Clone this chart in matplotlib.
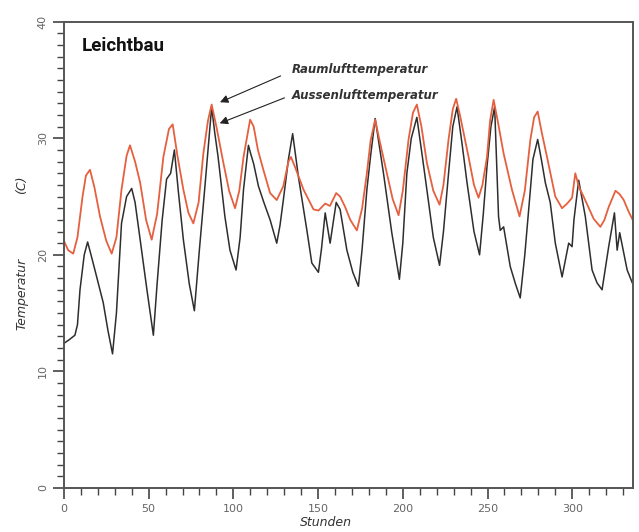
import matplotlib.pyplot as plt
from matplotlib.ticker import MultipleLocator

# Aussenlufttemperatur (black), hours / deg C
out_hours = [0, 3, 6.5, 8, 9.5, 12, 14, 16, 18.3, 23.2, 26, 28.7, 31, 34, 37, 40, 42, 45, 49, 52.8,
             55, 58, 60.6, 63, 65.2, 67.5, 70.5, 74, 77, 80, 83.3, 87.2, 89, 91, 95, 98, 101.6, 104,
             106, 108.9, 110, 112, 114.8, 118, 121.7, 125.6, 127.5, 129.5, 132.5, 135, 138.4, 143.4,
             146.3, 150.2, 152, 154.2, 157.1, 160.7, 163, 167, 170.5, 173.8, 176, 178.8, 181, 183.7,
             188.6, 193.5, 198, 200, 202.4, 205, 208.3, 211, 214.2, 218, 221.7, 224, 227, 229.5, 232,
             235, 237.9, 242, 245.3, 247.5, 249.7, 252, 254.2, 256.5, 257.5, 259.5, 263.4, 266.5,
             269.3, 272, 275.3, 276.8, 279.6, 282, 284.1, 287, 290, 294, 297.9, 299.9, 301, 303.8,
             307.7, 311.7, 314.6, 317.6, 321.5, 324.9, 326.5, 328, 332.4, 336]
out_temp = [12.4, 12.7, 13.1, 14.0, 17.0, 20.0, 21.1, 20.0, 18.7, 15.9, 13.5, 11.5, 15.0, 22.7, 25.0,
            25.7, 24.5, 21.3, 17.0, 13.1, 17.5, 23.0, 26.5, 27.0, 29.0, 25.5, 21.3, 17.5, 15.2, 20.5,
            26.0, 32.7, 30.5, 28.4, 23.3, 20.4, 18.7, 21.5, 25.6, 29.4, 28.8, 27.8, 25.9, 24.5, 23.0,
            21.0, 22.5, 24.7, 28.2, 30.4, 26.7, 22.1, 19.3, 18.5, 20.5, 23.6, 21.0, 24.5, 23.9, 20.4,
            18.5, 17.3, 20.5, 25.6, 28.5, 31.7, 27.0, 21.9, 17.9, 21.0, 27.0, 30.0, 31.8, 29.0, 25.6,
            21.5, 19.1, 22.0, 27.0, 31.0, 32.7, 29.5, 26.2, 22.0, 20.0, 23.5, 27.6, 31.0, 32.7, 23.3,
            22.1, 22.4, 19.0, 17.5, 16.3, 20.0, 25.6, 28.2, 29.9, 28.0, 26.2, 24.5, 21.0, 18.1, 21.0,
            20.7, 23.0, 26.4, 23.3, 18.7, 17.6, 17.0, 20.7, 23.6, 20.4, 21.9, 18.7, 17.4]

# Raumlufttemperatur (red)
room_hours = [0, 2.5, 5.5, 8, 11, 13, 15.4, 18, 21.3, 25, 28.2, 31, 34, 37, 39, 42, 45, 48.5, 51.8,
              55, 58.7, 62, 64.2, 67, 70.5, 73.5, 76.4, 79.5, 82.3, 85, 87.2, 90, 94.1, 97.5, 101,
              103.5, 106, 109.9, 112, 114.5, 117.7, 121.7, 125.6, 129.5, 132.5, 134, 136.5, 141.4,
              147.3, 150.2, 154.2, 157, 160.7, 163, 166, 169, 172.9, 176, 178.8, 181, 183.7, 186,
              190.6, 194, 197.5, 200, 203.4, 206, 208.3, 211, 214.2, 218, 221.7, 224, 227, 229.5,
              231.5, 234, 238.8, 242, 244.7, 247, 249.7, 251.5, 253.6, 256, 259.5, 264.4, 268.9, 272,
              275.3, 277.5, 279.6, 282, 285.1, 290, 294, 297, 299.9, 301.8, 304, 306.7, 312.6, 316.6,
              319, 321.5, 325.5, 328, 330.4, 333, 336]
room_temp = [21.2, 20.4, 20.1, 21.5, 25.0, 26.8, 27.3, 25.8, 23.3, 21.2, 20.1, 21.5, 25.6, 28.5, 29.4,
             28.0, 26.2, 23.0, 21.3, 23.5, 28.4, 30.8, 31.2, 28.5, 25.6, 23.6, 22.7, 24.5, 28.7, 31.5,
             32.9, 31.0, 27.9, 25.5, 24.0, 25.5, 28.4, 31.6, 31.0, 29.0, 27.3, 25.3, 24.7, 25.9, 28.0,
             28.4, 27.5, 25.6, 23.9, 23.8, 24.4, 24.2, 25.3, 25.0, 24.1, 23.0, 22.1, 24.0, 27.0, 29.8,
             31.6, 30.0, 27.0, 24.8, 23.4, 25.5, 29.9, 32.2, 32.9, 31.0, 27.9, 25.5, 24.3, 26.0, 29.9,
             32.5, 33.4, 31.8, 28.4, 26.0, 24.9, 26.0, 28.4, 31.5, 33.3, 31.5, 28.7, 25.6, 23.3, 25.5,
             29.9, 31.8, 32.3, 30.5, 28.4, 25.0, 24.0, 24.4, 24.9, 27.0, 25.8, 25.0, 23.1, 22.4, 23.0,
             24.1, 25.5, 25.2, 24.7, 23.8, 22.9]

fig = plt.figure(figsize=(6.39, 5.32), dpi=100)
ax = fig.add_axes([0.100, 0.083, 0.891, 0.876])

ax.plot(out_hours, out_temp, color='#2e2e2e', lw=1.1, solid_joinstyle='round')
ax.plot(room_hours, room_temp, color='#e5603f', lw=1.3, solid_joinstyle='round')

ax.set_xlim(0, 336)
ax.set_ylim(0, 40)
ax.xaxis.set_major_locator(MultipleLocator(50))
ax.xaxis.set_minor_locator(MultipleLocator(10))
ax.yaxis.set_major_locator(MultipleLocator(10))
ax.yaxis.set_minor_locator(MultipleLocator(1))
ax.tick_params(which='major', direction='out', length=8, width=1.2, colors='#444',
               labelsize=8, labelcolor='#666')
ax.tick_params(which='minor', direction='out', length=5, width=1.0, colors='#444')
ax.tick_params(axis='y', labelrotation=90)
for lab in ax.get_yticklabels():
    lab.set_va('center')
for sp in ax.spines.values():
    sp.set_color('#555')
    sp.set_linewidth(1.4)

# axis labels
ax.text(-0.074, 0.416, 'Temperatur', transform=ax.transAxes, rotation=90, fontsize=9,
        style='italic', color='#333', ha='center', va='center')
ax.text(-0.074, 0.65, '(C)', transform=ax.transAxes, rotation=90, fontsize=9,
        style='italic', color='#333', ha='center', va='center')
ax.text(0.46, -0.075, 'Stunden', transform=ax.transAxes, fontsize=9,
        style='italic', color='#333', ha='center', va='center')

ax.text(0.032, 0.948, 'Leichtbau', transform=ax.transAxes, fontsize=13.5,
        fontweight='bold', family='Roboto', color='#111', va='center')

# curve labels with arrows
ax.annotate('', xy=(90.6, 33.0), xytext=(129.4, 35.45),
            arrowprops=dict(arrowstyle='-|>', color='#222', lw=0.8, mutation_scale=12))
ax.annotate('', xy=(90.4, 31.2), xytext=(131.7, 33.56),
            arrowprops=dict(arrowstyle='-|>', color='#222', lw=0.8, mutation_scale=12))
ax.text(134.7, 35.9, 'Raumlufttemperatur', fontsize=8.5, style='italic', fontweight='bold',
        color='#333', va='center')
ax.text(134.7, 33.7, 'Aussenlufttemperatur', fontsize=8.5, style='italic', fontweight='bold',
        color='#333', va='center')

fig.savefig('out.png', dpi=100)
